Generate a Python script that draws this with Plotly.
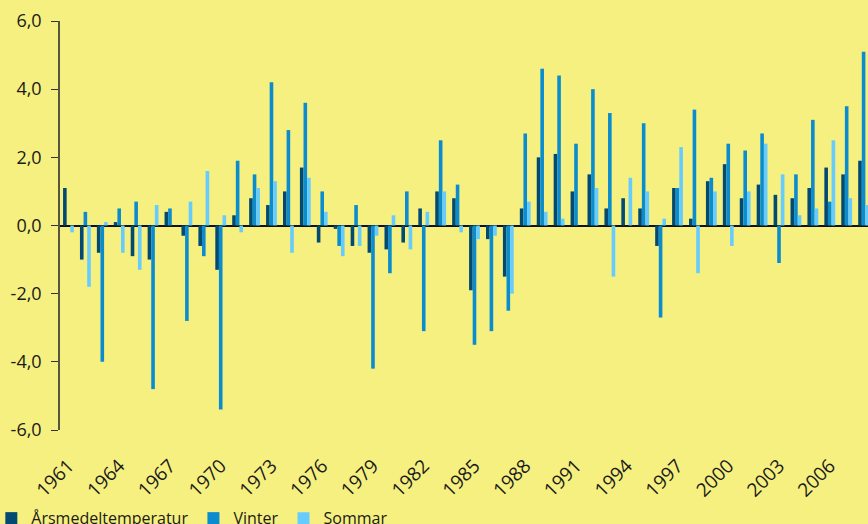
import plotly.graph_objects as go

years = list(range(1961, 2009))
year_labels = [str(y) for y in years]

arsmedel = [1.1, -1.0, -0.8, 0.1, -0.9, -1.0, 0.4, -0.3, -0.6, -1.3,
            0.3, 0.8, 0.6, 1.0, 1.7, -0.5, -0.1, -0.6, -0.8, -0.7,
            -0.5, 0.5, 1.0, 0.8, -1.9, -0.4, -1.5, 0.5, 2.0, 2.1,
            1.0, 1.5, 0.5, 0.8, 0.5, -0.6, 1.1, 0.2, 1.3, 1.8,
            0.8, 1.2, 0.9, 0.8, 1.1, 1.7, 1.5, 1.9]
vinter = [0.0, 0.4, -4.0, 0.5, 0.7, -4.8, 0.5, -2.8, -0.9, -5.4,
          1.9, 1.5, 4.2, 2.8, 3.6, 1.0, -0.6, 0.6, -4.2, -1.4,
          1.0, -3.1, 2.5, 1.2, -3.5, -3.1, -2.5, 2.7, 4.6, 4.4,
          2.4, 4.0, 3.3, 0.0, 3.0, -2.7, 1.1, 3.4, 1.4, 2.4,
          2.2, 2.7, -1.1, 1.5, 3.1, 0.7, 3.5, 5.1]
sommar = [-0.2, -1.8, 0.1, -0.8, -1.3, 0.6, 0.0, 0.7, 1.6, 0.3,
          -0.2, 1.1, 1.3, -0.8, 1.4, 0.4, -0.9, -0.6, -0.3, 0.3,
          -0.7, 0.4, 1.0, -0.2, -0.4, -0.3, -2.0, 0.7, 0.4, 0.2,
          0.0, 1.1, -1.5, 1.4, 1.0, 0.2, 2.3, -1.4, 1.0, -0.6,
          1.0, 2.4, 1.5, 0.3, 0.5, 2.5, 0.8, 0.6]

tick_vals = [str(y) for y in range(1961, 2009, 3)]
y_ticks = [-6, -4, -2, 0, 2, 4, 6]
y_tick_text = ["-6,0", "-4,0", "-2,0", "0,0", "2,0", "4,0", "6,0"]

series = [
    ("Årsmedeltemperatur", arsmedel, "#024a72"),
    ("Vinter", vinter, "#0a8ccf"),
    ("Sommar", sommar, "#66ccff"),
]

bg = "#f5f07f"
fig = go.Figure()
for name, vals, col in series:
    fig.add_trace(go.Bar(x=year_labels, y=vals, name=name,
                         marker=dict(color=col, line=dict(width=0))))

fig.update_layout(
    width=868, height=524,
    paper_bgcolor=bg, plot_bgcolor=bg,
    margin=dict(l=60, r=0, t=21, b=94, autoexpand=False),
    barmode="group", bargap=0.36, bargroupgap=0,
    font=dict(family="Open Sans, sans-serif", size=17, color="#1a1a1a"),
    showlegend=True,
    legend=dict(orientation="h", xref="paper", yref="container",
                x=-0.085, y=0.011, xanchor="left", yanchor="middle",
                font=dict(size=16, color="#1a1a1a"),
                bgcolor="rgba(0,0,0,0)", itemwidth=30, traceorder="normal"),
)
fig.update_xaxes(
    type="category", range=[-0.5, 47.26], automargin=False,
    tickmode="array", tickvals=tick_vals, ticktext=tick_vals,
    tickangle=-45, ticks="", showline=False, showgrid=False,
    ticklabelstandoff=20, tickfont=dict(size=19),
)
fig.update_yaxes(
    range=[-6, 6], automargin=False,
    tickmode="array", tickvals=y_ticks, ticktext=y_tick_text,
    ticks="outside", ticklen=7, tickcolor="#333", tickwidth=1,
    showline=True, linecolor="#555540", linewidth=1.5,
    showgrid=False, zeroline=True, zerolinecolor="#111", zerolinewidth=1.5,
    tickfont=dict(size=18), ticklabelstandoff=6,
)

fig.write_html("out.html",
               config={"displayModeBar": False},
               post_script="document.body.style.margin='0';"
                           "document.body.style.background='#f5f07f';")
